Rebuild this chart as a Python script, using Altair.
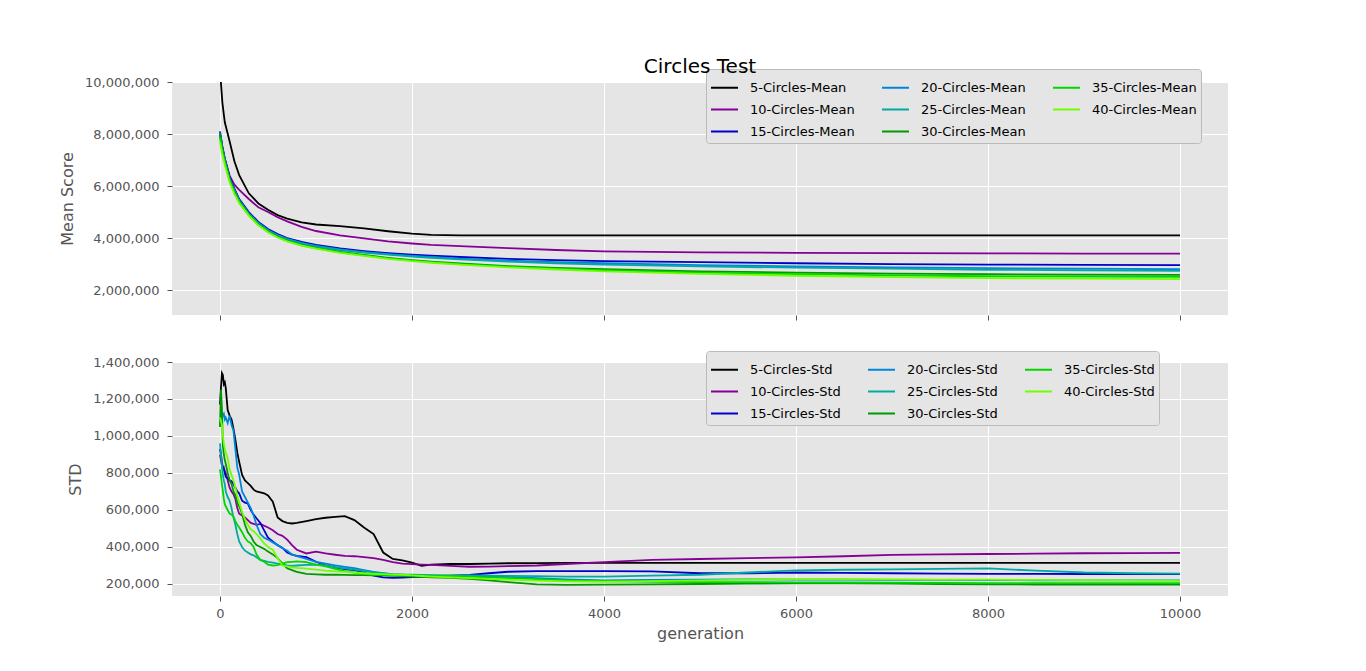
import altair as alt
import pandas as pd

SERIES_N = [5, 10, 15, 20, 25, 30, 35, 40]
COLORS = ["#000000", "#850096", "#0000c8", "#0085dd", "#00aaa3", "#009900", "#00d600", "#70ff00"]
X_TICKS = [0, 2000, 4000, 6000, 8000, 10000]
MEAN_TICKS = [2000000, 4000000, 6000000, 8000000, 10000000]
STD_TICKS = [200000, 400000, 600000, 800000, 1000000, 1200000, 1400000]

# ---- Mean score (millions) ----
GEN_MEAN = [0, 25, 50, 100, 150, 200, 300, 400, 500, 600, 700, 850, 1000, 1250, 1500,
            1750, 2000, 2200, 2500, 3000, 3500, 4000, 5000, 6000, 7000, 8000, 9000, 10000]
MEAN_5 = [10.45, 9.2, 8.45, 7.72, 6.95, 6.42, 5.72, 5.33, 5.09, 4.88, 4.75, 4.6, 4.52, 4.46, 4.37,
          4.26, 4.17, 4.12, 4.10, 4.10, 4.10, 4.10, 4.10, 4.10, 4.10, 4.10, 4.10, 4.10]
MEAN_10 = [8.0, 7.5, 7.05, 6.4, 6.05, 5.85, 5.5, 5.18, 5.0, 4.8, 4.64, 4.43, 4.27, 4.1, 3.99,
           3.87, 3.79, 3.74, 3.69, 3.61, 3.54, 3.49, 3.45, 3.43, 3.42, 3.41, 3.40, 3.40]
MEAN_15 = [8.1, 7.5, 7.05, 6.35, 5.9, 5.5, 5.0, 4.62, 4.35, 4.15, 4.0, 3.85, 3.74, 3.6, 3.5,
           3.42, 3.36, 3.32, 3.27, 3.2, 3.15, 3.11, 3.07, 3.03, 3.0, 2.98, 2.97, 2.96]
MEAN_20 = [8.05, 7.45, 7.0, 6.3, 5.85, 5.45, 4.95, 4.58, 4.31, 4.11, 3.97, 3.81, 3.7, 3.56, 3.46,
           3.38, 3.31, 3.27, 3.21, 3.13, 3.07, 3.03, 2.96, 2.91, 2.87, 2.84, 2.82, 2.80]
MEAN_25 = [7.95, 7.4, 6.95, 6.27, 5.82, 5.43, 4.93, 4.56, 4.29, 4.09, 3.95, 3.79, 3.68, 3.54, 3.44,
           3.36, 3.29, 3.24, 3.18, 3.09, 3.03, 2.98, 2.91, 2.86, 2.82, 2.78, 2.76, 2.74]
MEAN_30 = [8.0, 7.4, 6.95, 6.25, 5.78, 5.4, 4.9, 4.52, 4.25, 4.05, 3.9, 3.74, 3.62, 3.47, 3.35,
           3.24, 3.15, 3.09, 3.02, 2.92, 2.85, 2.8, 2.72, 2.67, 2.63, 2.61, 2.59, 2.58]
MEAN_35 = [7.85, 7.3, 6.9, 6.2, 5.74, 5.37, 4.88, 4.5, 4.23, 4.03, 3.88, 3.72, 3.6, 3.45, 3.33,
           3.22, 3.13, 3.07, 3.0, 2.9, 2.82, 2.76, 2.67, 2.61, 2.56, 2.53, 2.52, 2.51]
MEAN_40 = [7.7, 7.2, 6.82, 6.15, 5.7, 5.35, 4.86, 4.49, 4.22, 4.02, 3.87, 3.71, 3.59, 3.43, 3.31,
           3.2, 3.11, 3.05, 2.98, 2.87, 2.79, 2.72, 2.62, 2.55, 2.5, 2.46, 2.44, 2.42]

# ---- Standard deviation (thousands) ----
GEN_STD = [0, 10, 20, 30, 40, 50, 60, 80, 100, 120, 140, 160, 180, 200, 230, 260, 290, 320, 350,
           380, 420, 460, 500, 550, 600, 650, 700, 750, 800, 900, 1000, 1100, 1200, 1300, 1400,
           1500, 1600, 1700, 1800, 1900, 2000, 2100, 2200, 2400, 2600, 2800, 3000, 3300, 3600,
           4000, 4500, 5000, 5500, 6000, 6500, 7000, 7500, 8000, 8500, 9000, 9500, 10000]
STD_5 = [1170, 1260, 1340, 1330, 1280, 1290, 1260, 1140, 1110, 1090, 1040, 980, 910, 860, 790, 760,
         745, 730, 710, 700, 695, 690, 678, 645, 560, 540, 530, 527, 530, 540, 550, 558, 563, 567,
         545, 505, 470, 370, 335, 328, 315, 298, 305, 308, 308, 310, 312, 313, 314, 314, 314, 314,
         314, 314, 314, 314, 314, 314, 314, 314, 314, 314]
STD_10 = [900, 870, 840, 820, 830, 810, 800, 760, 720, 700, 685, 660, 610, 580, 570, 560, 545, 530,
          525, 520, 525, 515, 505, 490, 470, 460, 440, 410, 385, 365, 375, 365, 358, 352, 350, 345,
          340, 330, 318, 310, 307, 305, 303, 298, 293, 294, 297, 300, 308, 318, 330, 335, 340, 344,
          350, 357, 360, 362, 364, 366, 367, 368]
STD_15 = [930, 900, 860, 830, 820, 800, 780, 770, 760, 755, 740, 720, 700, 690, 650, 640, 635, 600,
          575, 555, 530, 490, 450, 430, 410, 395, 370, 358, 352, 345, 320, 300, 290, 280, 275, 262,
          245, 236, 233, 234, 237, 238, 240, 245, 249, 258, 266, 270, 270, 270, 268, 258, 258, 262,
          260, 258, 256, 255, 255, 254, 254, 254]
STD_20 = [1050, 1100, 1120, 1110, 1120, 1090, 1100, 1070, 1110, 1060, 1030, 930, 830, 790, 700, 670,
          640, 610, 570, 520, 470, 450, 440, 425, 410, 395, 380, 360, 350, 335, 320, 310, 300, 292,
          285, 275, 265, 258, 252, 250, 248, 247, 245, 243, 241, 240, 238, 232, 225, 220, 222, 224,
          225, 224, 223, 222, 222, 221, 220, 220, 220, 220]
STD_25 = [960, 900, 840, 790, 760, 740, 700, 670, 650, 610, 560, 520, 470, 430, 400, 380, 370, 360,
          355, 345, 330, 325, 320, 315, 310, 305, 300, 298, 300, 303, 305, 300, 290, 285, 278, 270,
          262, 257, 253, 251, 250, 249, 248, 247, 246, 245, 244, 242, 240, 240, 245, 250, 262, 274,
          277, 279, 282, 284, 272, 262, 258, 256]
STD_30 = [1050, 1250, 1150, 950, 900, 870, 850, 800, 760, 740, 700, 680, 640, 620, 580, 520, 480,
          460, 430, 410, 400, 390, 375, 360, 340, 310, 285, 275, 265, 255, 252, 250, 250, 249, 248,
          248, 247, 246, 244, 242, 240, 238, 236, 233, 228, 220, 210, 198, 195, 196, 198, 200, 202,
          203, 203, 202, 200, 198, 197, 196, 196, 196]
STD_35 = [820, 780, 740, 700, 660, 630, 620, 600, 580, 575, 565, 540, 520, 505, 480, 450, 430, 420,
          400, 360, 330, 320, 305, 300, 302, 310, 318, 320, 322, 318, 305, 295, 282, 270, 262, 255,
          250, 249, 248, 247, 246, 245, 244, 243, 240, 236, 232, 226, 220, 215, 212, 210, 210, 209,
          208, 207, 206, 205, 205, 205, 205, 205]
STD_40 = [1100, 1080, 1060, 1000, 960, 930, 910, 880, 820, 790, 760, 720, 680, 640, 590, 550, 520,
          495, 485, 470, 445, 420, 400, 385, 340, 300, 295, 290, 287, 283, 278, 272, 268, 265, 262,
          258, 255, 253, 251, 250, 247, 243, 240, 236, 232, 228, 224, 218, 214, 212, 215, 220, 224,
          226, 226, 225, 224, 223, 222, 221, 220, 218]

MEAN_SERIES = [MEAN_5, MEAN_10, MEAN_15, MEAN_20, MEAN_25, MEAN_30, MEAN_35, MEAN_40]
STD_SERIES = [STD_5, STD_10, STD_15, STD_20, STD_25, STD_30, STD_35, STD_40]


def long_table(gens, series_list, suffix, unit):
    rows = []
    for order, (n, vals) in enumerate(zip(SERIES_N, series_list)):
        for g, v in zip(gens, vals):
            rows.append({"generation": g, "value": v * unit,
                         "series": f"{n}-Circles-{suffix}", "order": order})
    return pd.DataFrame(rows)


mean_df = long_table(GEN_MEAN, MEAN_SERIES, "Mean", 1_000_000)
std_df = long_table(GEN_STD, STD_SERIES, "Std", 1_000)


def color_enc(suffix, ly):
    dom = [f"{n}-Circles-{suffix}" for n in SERIES_N]
    return alt.Color(
        "series:N",
        scale=alt.Scale(domain=dom, range=COLORS),
        legend=alt.Legend(
            orient="none", legendX=534, legendY=ly, columns=3, title=None,
            symbolType="stroke", symbolSize=729, symbolStrokeWidth=2,
            labelFontSize=13, labelColor="black", labelOffset=11, labelLimit=400,
            fillColor="#E5E5E5", strokeColor="#bbbbbb", padding=4,
            rowPadding=-3, columnPadding=23, cornerRadius=3,
        ),
    )


x_scale = alt.Scale(domain=[-500, 10500], nice=False, zero=False)

top = alt.Chart(mean_df).mark_line(strokeWidth=1.8, clip=True).encode(
    x=alt.X("generation:Q", scale=x_scale,
            axis=alt.Axis(values=X_TICKS, labels=False, title=None)),
    y=alt.Y("value:Q", scale=alt.Scale(domain=[1040000, 10000000], nice=False, zero=False),
            axis=alt.Axis(values=MEAN_TICKS, format=",d", title="Mean Score")),
    color=color_enc("Mean", -13),
    order=alt.Order("order:Q"),
).properties(
    width=1056, height=233,
    title=alt.TitleParams("Circles Test", fontSize=20, fontWeight="normal",
                          color="black", frame="group", offset=-8),
)

bottom = alt.Chart(std_df).mark_line(strokeWidth=1.8, clip=True).encode(
    x=alt.X("generation:Q", scale=x_scale,
            axis=alt.Axis(values=X_TICKS, format="d", title="generation",
                          labelPadding=6, titlePadding=5)),
    y=alt.Y("value:Q", scale=alt.Scale(domain=[135000, 1400000], nice=False, zero=False),
            axis=alt.Axis(values=STD_TICKS, format=",d", title="STD")),
    color=color_enc("Std", -11),
    order=alt.Order("order:Q"),
).properties(width=1056, height=234)

chart = alt.vconcat(top, bottom, spacing=47, bounds="flush").resolve_scale(
    color="independent", x="shared"
).properties(
    padding={"left": 51, "top": 48, "right": 10, "bottom": 10},
    background="white",
).configure(font="DejaVu Sans").configure_view(
    fill="#E5E5E5", stroke=None
).configure_axis(
    labelFontSize=13, labelColor="#555555", titleFontSize=16, titleColor="#555555",
    titleFontWeight="normal", tickColor="#555555", tickSize=5, tickWidth=1,
    domain=False, gridColor="white", gridWidth=1, labelPadding=8, titlePadding=9,
).configure_legend(labelFont="DejaVu Sans")

chart.save("out.html", embed_options={"renderer": "svg", "actions": False})
